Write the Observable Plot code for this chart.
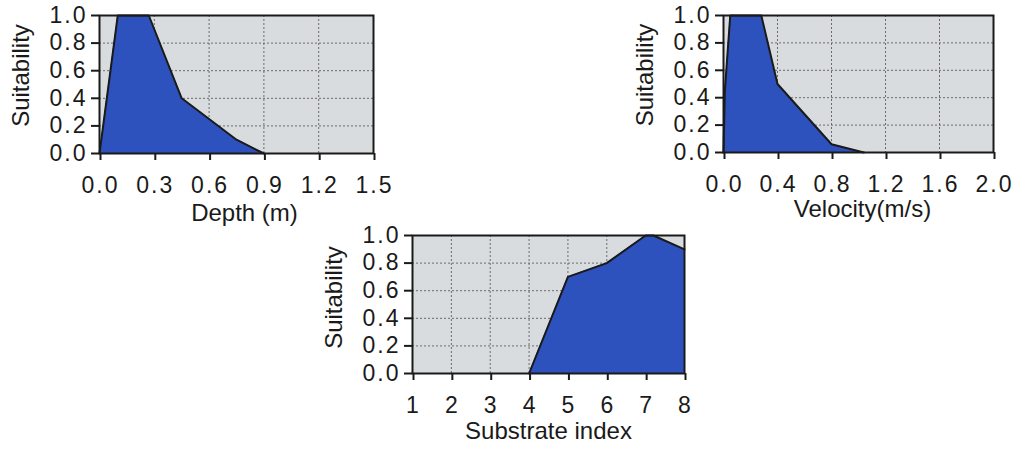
<!DOCTYPE html>
<html>
<head>
<meta charset="utf-8">
<script src="https://cdn.jsdelivr.net/npm/d3@7"></script>
<script src="https://cdn.jsdelivr.net/npm/@observablehq/plot@0.6"></script>
<style>
  html, body { margin: 0; padding: 0; background: #ffffff; }
  #wrap { position: relative; width: 1016px; height: 450px; overflow: hidden; }
  .panel { position: absolute; }
  .panel g[aria-label="x-axis tick label"] text { letter-spacing: 2px; }
  .panel g[aria-label="y-axis tick label"] text { letter-spacing: 2px; }
</style>
</head>
<body>
<div id="wrap"></div>
<script>
// ---- Data ----
const depthX = [0, 0.1, 0.27, 0.45, 0.75, 0.9];
const depthY = [0, 1.0, 1.0, 0.4, 0.1, 0];
const velocityX = [0, 0.01, 0.05, 0.28, 0.4, 0.8, 1.04];
const velocityY = [0, 0.45, 1.0, 1.0, 0.5, 0.06, 0];
const substrateX = [4, 5, 6, 7, 7.2, 8];
const substrateY = [0, 0.7, 0.8, 1.0, 1.0, 0.9];

const depthTicks = [0, 0.3, 0.6, 0.9, 1.2, 1.5];
const velocityTicks = [0, 0.4, 0.8, 1.2, 1.6, 2.0];
const substrateTicks = [1, 2, 3, 4, 5, 6, 7, 8];
const suitTicks = [0, 0.2, 0.4, 0.6, 0.8, 1.0];

const yTitle = "Suitability";
const titles = ["Depth (m)", "Velocity(m/s)", "Substrate index"];

// ---- Styles ----
const BG = "#d9dcde";
const BLUE = "#2d52bd";
const INK = "#1a1a1a";
const FONT = "Liberation Sans, Arial, Helvetica, sans-serif";

function panel(cfg) {
  const data = cfg.xs.map((x, i) => ({x, y: cfg.ys[i]}));
  const innerTicksX = cfg.xTicks.slice(1, -1);
  const innerTicksY = suitTicks.slice(1, -1);
  return Plot.plot({
    width: cfg.width, height: cfg.height,
    marginLeft: cfg.ml, marginRight: cfg.mr, marginTop: cfg.mt, marginBottom: cfg.mb,
    style: {fontFamily: FONT, fontSize: "23px", color: INK, background: "transparent", overflow: "visible"},
    x: {domain: cfg.xDomain, label: null},
    y: {domain: [0, 1], label: null},
    marks: [
      Plot.frame({fill: BG}),
      Plot.gridX(innerTicksX, {stroke: "#6a6a6a", strokeOpacity: 1, strokeWidth: 1, strokeDasharray: "2,2"}),
      Plot.gridY(innerTicksY, {stroke: "#6a6a6a", strokeOpacity: 1, strokeWidth: 1, strokeDasharray: "2,2"}),
      Plot.areaY(data, {x: "x", y: "y", fill: BLUE}),
      Plot.line(data, {x: "x", y: "y", stroke: INK, strokeWidth: 2}),
      Plot.frame({stroke: INK, strokeWidth: 2}),
      Plot.axisX(cfg.xTicks, {tickSize: 7, tickPadding: 16, dx: 1, tickFormat: cfg.xFormat, strokeWidth: 2, stroke: INK, fontSize: 23, fill: INK, label: null}),
      Plot.axisY(suitTicks, {tickSize: 8, tickPadding: 4, tickFormat: d3.format(".1f"), strokeWidth: 2, stroke: INK, fontSize: 23, fill: INK, label: null}),
      Plot.text([cfg.title], {frameAnchor: "bottom", textAnchor: "middle", dx: cfg.tdx, dy: cfg.tdy, fontSize: 24, fill: INK, lineAnchor: "middle"}),
      Plot.text([yTitle], {frameAnchor: "left", textAnchor: "middle", dx: -78, dy: cfg.ydy, rotate: -90, fontSize: 24, fill: INK, lineAnchor: "middle"})
    ]
  });
}

const wrap = document.getElementById("wrap");
function place(node, left, top) {
  const d = document.createElement("div");
  d.className = "panel";
  d.style.left = left + "px";
  d.style.top = top + "px";
  d.appendChild(node);
  wrap.appendChild(d);
}

place(panel({
  xs: depthX, ys: depthY, xDomain: [0, 1.5], xTicks: depthTicks, xFormat: d3.format(".1f"),
  title: titles[0], width: 390, height: 230, ml: 99, mr: 17, mt: 15, mb: 77, tdx: 8, tdy: 60, ydy: -9
}), 0, 0);

place(panel({
  xs: velocityX, ys: velocityY, xDomain: [0, 2.0], xTicks: velocityTicks, xFormat: d3.format(".1f"),
  title: titles[1], width: 392, height: 230, ml: 99, mr: 23, mt: 15, mb: 78, tdx: 4, tdy: 57, ydy: -9
}), 624, 0);

place(panel({
  xs: substrateX, ys: substrateY, xDomain: [1, 8], xTicks: substrateTicks, xFormat: d3.format("d"),
  title: titles[2], width: 390, height: 230, ml: 100, mr: 18, mt: 15, mb: 77, tdx: 0, tdy: 58, ydy: -7
}), 312, 220);
</script>
</body>
</html>
